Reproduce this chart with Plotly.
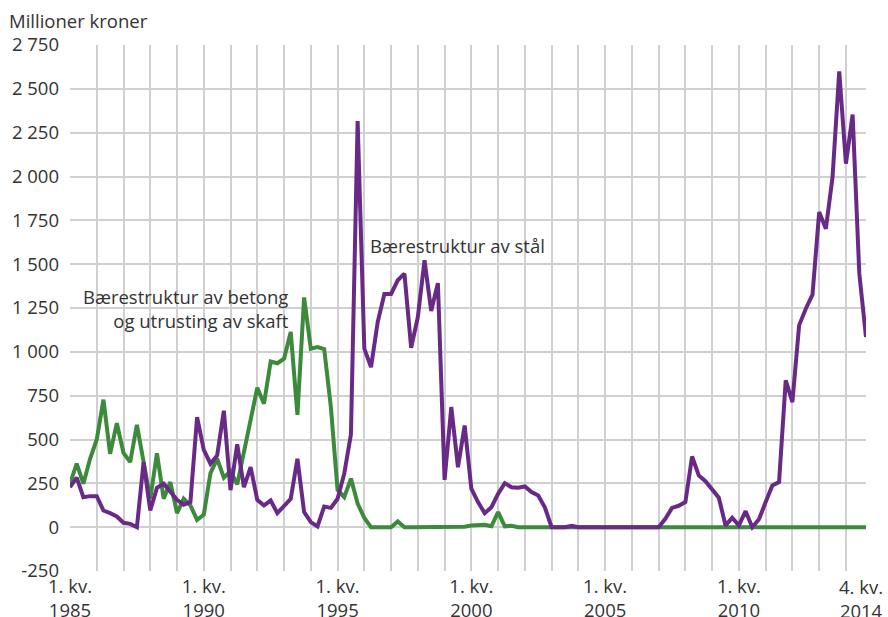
import plotly.graph_objects as go

# Quarterly periods 1985 Q1 - 2014 Q4
years = list(range(1985, 2015))
quarters = [f"{q}. kv. {y}" for y in years for q in (1, 2, 3, 4)]

betong = [248, 362, 248, 390, 500, 727, 418, 593, 424, 371, 584, 370, 162, 422, 162, 257,
          80, 162, 124, 42, 71, 308, 390, 282, 320, 244, 430, 628, 795, 704, 945, 935,
          961, 1113, 640, 1310, 1018, 1027, 1016, 685, 213, 171, 277, 135, 52, 0, 0, 0,
          0, 33, 0, 0, 0, 0, 0, 0, 5, 0, 0, 3, 10, 12, 14, 5,
          86, 5, 8, 0, 0, 0, 0, 0, 0, 0, 0, 0, 0, 0, 0, 0,
          0, 0, 0, 0, 0, 0, 0, 0, 0, 0, 0, 0, 0, 0, 0, 0,
          0, 0, 0, 0, 0, 0, 0, 0, 0, 0, 0, 0, 0, 0, 0, 0,
          0, 0, 0, 0, 0, 0, 0, 0]

staal = [228, 282, 171, 177, 177, 95, 80, 61, 25, 19, 0, 371, 95, 225, 248, 200,
         156, 128, 143, 628, 441, 362, 409, 664, 211, 472, 228, 342, 156, 124, 152, 80,
         118, 162, 390, 86, 29, 4, 118, 110, 162, 305, 530, 2316, 1018, 913, 1170, 1330,
         1330, 1408, 1446, 1023, 1198, 1522, 1233, 1392, 270, 685, 342, 580, 219, 143, 80, 114,
         190, 251, 228, 225, 232, 200, 181, 112, 0, 0, 0, 8, 0, 0, 0, 0,
         0, 0, 0, 0, 0, 0, 0, 0, 0, 48, 110, 122, 143, 403, 295, 262,
         219, 168, 10, 53, 10, 91, 0, 45, 143, 238, 257, 837, 713, 1151, 1246, 1326,
         1797, 1702, 1997, 2600, 2073, 2353, 1446, 1084]

y_tickvals = [-250, 0, 250, 500, 750, 1000, 1250, 1500, 1750, 2000, 2250, 2500, 2750]
y_ticktext = ["-250", "0", "250", "500", "750", "1 000", "1 250", "1 500", "1 750",
              "2 000", "2 250", "2 500", "2 750"]

x_idx = list(range(len(quarters)))
x_tickvals = list(range(0, 120, 4)) + [119]
label_map = {0: "1. kv.<br>1985", 20: "1. kv.<br>1990", 40: "1. kv.<br>1995",
             60: "1. kv.<br>2000", 80: "1. kv.<br>2005", 100: "1. kv.<br>2010"}
x_ticktext = [label_map.get(v, "") for v in x_tickvals]
last_label = "4. kv.<br>2014"

GREEN = "#3c8a3c"
PURPLE = "#692a87"
FONT = "Open Sans"
TXT = "#333333"
FS = 18.5

fig = go.Figure()
fig.add_trace(go.Scatter(x=x_idx, y=betong, mode="lines", customdata=quarters,
                         line=dict(color=GREEN, width=4),
                         name="Bærestruktur av betong og utrusting av skaft"))
fig.add_trace(go.Scatter(x=x_idx, y=staal, mode="lines", customdata=quarters,
                         line=dict(color=PURPLE, width=4),
                         name="Bærestruktur av stål"))

fig.add_annotation(x=33.1, y=1248, xref="x", yref="y", text="Bærestruktur av betong<br>og utrusting av skaft",
                   showarrow=False, xanchor="right", yanchor="middle", align="right",
                   font=dict(family=FONT, size=FS, color=TXT))
fig.add_annotation(x=44.6, y=1607, xref="x", yref="y", text="Bærestruktur av stål",
                   showarrow=False, xanchor="left", yanchor="middle", align="left",
                   font=dict(family=FONT, size=FS, color=TXT))
fig.add_annotation(x=0, y=1, xref="paper", yref="paper", text="Millioner kroner",
                   showarrow=False, xanchor="left", yanchor="bottom", xshift=-63, yshift=10,
                   font=dict(family=FONT, size=FS, color=TXT))
# last category label, pulled slightly left so that it fits inside the picture
fig.add_annotation(x=x_idx[-1], y=0, xref="x", yref="paper", text=last_label,
                   showarrow=False, xanchor="center", yanchor="top", xshift=-5, yshift=-1,
                   align="center", font=dict(family=FONT, size=FS, color=TXT))

fig.update_layout(
    width=888, height=617,
    margin=dict(l=70, r=22, t=45, b=46),
    paper_bgcolor="white", plot_bgcolor="white",
    showlegend=False,
    font=dict(family=FONT, size=FS, color=TXT),
    xaxis=dict(range=[0, 119], tickmode="array", tickvals=x_tickvals, ticktext=x_ticktext,
               showgrid=True, gridcolor="#d0d0d0", gridwidth=1.6, zeroline=False,
               showline=False, ticks="", automargin=False, ticklabelstandoff=2,
               tickfont=dict(family=FONT, size=FS, color=TXT)),
    yaxis=dict(range=[-250, 2750], tickmode="array", tickvals=y_tickvals, ticktext=y_ticktext,
               showgrid=True, gridcolor="#d0d0d0", gridwidth=1.6, zeroline=False,
               showline=False, ticks="", ticklabelstandoff=10, automargin=False,
               tickfont=dict(family=FONT, size=FS, color=TXT)),
)

fig.write_html("out.html",
               config={"displayModeBar": False},
               post_script="document.body.style.margin='0';document.body.style.overflow='hidden';")
